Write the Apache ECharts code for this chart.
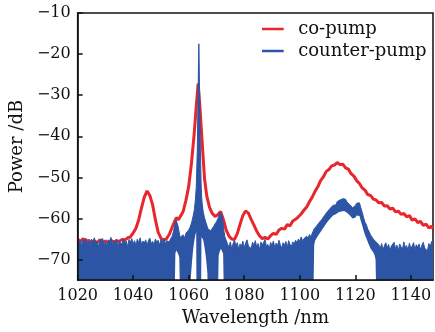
<!DOCTYPE html>
<html><head><meta charset="utf-8">
<script src="https://cdn.jsdelivr.net/npm/echarts@6.0.0/dist/echarts.min.js"></script>
<style>html,body{margin:0;padding:0;background:#fff}#c{width:435px;height:332px}</style>
</head><body><div id="c"></div>
<script>
const xTicks = [1020,1040,1060,1080,1100,1120,1140];
const yTicks = [-70,-60,-50,-40,-30,-20,-10];

// co-pump spectrum (nm, dB)
const redWl = [1020,1021,1022,1023,1024,1025,1026,1027,1028,1029,
1030,1031,1032,1033,1034,1035,1036,1037,1038,1039,
1040,1041,1042,1043,1044,1045,1046,1047,1048,1049,
1050,1051,1052,1053,1054,1055,1055.6,1056.3,1057,1058,
1059,1060,1061,1062,1062.8,1063.4,1064,1064.8,1065.7,1066.5,
1067.5,1068.5,1069.5,1070.5,1071.5,1072.5,1073.5,1074.5,1075.5,1076.5,
1077.5,1078.5,1079.5,1080.5,1081.5,1082.5,1083.5,1084.5,1085.5,1086.5,
1087.5,1088.5,1089.5,1090.5,1091.5,1092.5,1093.5,1094.5,1095.5,1096.5,
1097.5,1098.5,1099.5,1100.5,1101.5,1102.5,1103.5,1104.5,1105.5,1106.5,
1107.5,1108.5,1109.5,1110.5,1111.5,1112.5,1113.5,1114.5,1115.5,1116.5,
1117.5,1118.5,1119.5,1120.5,1121.5,1122.5,1123.5,1124.5,1125.5,1126.5,
1127.5,1128.5,1129.5,1130.5,1131.5,1132.5,1133.5,1134.5,1135.5,1136.5,
1137.5,1138.5,1139.5,1140.5,1141.5,1142.5,1143.5,1144.5,1145.5,1146.5,
1147.5,1148];
const redVal = [-65.0,-65.6,-64.9,-65.8,-65.3,-66.0,-65.4,-65.9,-65.2,-65.8,
-65.5,-66.0,-65.3,-65.8,-65.4,-65.6,-65.1,-65.3,-64.7,-64.5,
-63.5,-62.4,-60.3,-57.4,-54.8,-53.3,-54.4,-56.7,-60.3,-63.4,
-64.8,-65.3,-64.9,-63.9,-62.2,-60.6,-59.8,-60.3,-60.0,-58.3,
-55.6,-52.2,-46.5,-39.2,-32.0,-27.2,-32.5,-41.0,-50.3,-54.5,
-57.3,-58.8,-59.5,-59.1,-58.3,-60.3,-62.8,-64.3,-65.0,-65.1,
-63.7,-61.4,-59.3,-58.2,-58.7,-60.2,-61.6,-63.1,-64.2,-64.9,
-64.6,-65.0,-64.2,-63.6,-63.9,-62.8,-62.4,-62.6,-61.5,-61.8,
-60.6,-60.2,-59.6,-58.9,-58.0,-57.2,-55.9,-54.8,-53.4,-52.3,
-50.8,-49.9,-48.6,-48.1,-47.2,-47.0,-46.4,-46.9,-46.8,-47.7,
-48.0,-49.1,-49.7,-50.8,-51.5,-52.6,-53.1,-54.2,-54.4,-55.3,
-55.5,-56.2,-56.1,-57.0,-56.9,-57.7,-57.5,-58.4,-58.2,-59.0,
-58.8,-59.6,-59.3,-60.4,-60.1,-61.0,-60.7,-61.7,-61.4,-62.3,
-61.9,-62.5];

// counter-pump spectrum: upper edge of the noisy trace (nm, dB)
const blueWl = [1020,1020.5,1021,1021.5,1022,1022.5,1023,1023.5,1024,1024.5,
1025,1025.5,1026,1026.5,1027,1027.5,1028,1028.5,1029,1029.5,
1030,1030.5,1031,1031.5,1032,1032.5,1033,1033.5,1034,1034.5,
1035,1035.5,1036,1036.5,1037,1037.5,1038,1038.5,1039,1039.5,
1040,1040.5,1041,1041.5,1042,1042.5,1043,1043.5,1044,1044.5,
1045,1045.5,1046,1046.5,1047,1047.5,1048,1048.5,1049,1049.5,
1050,1050.5,1051,1051.5,1052,1052.5,1053,1053.5,1054,
1054.5,1054.9,1055.2,1055.5,1055.8,1056.2,1056.6,1056.9,1057.2,
1057.6,1058,1058.5,1059,1059.5,1060,1060.4,1060.8,1061.2,1061.6,
1062,1062.4,1062.7,1062.8,1063.1,1063.35,1063.55,1063.65,1063.75,1063.95,
1064.2,1064.45,1064.6,1064.8,1065.2,1065.7,1066.2,1066.7,1067,1067.5,
1068,1068.5,1069,1069.5,1070,1070.5,
1070.8,1071.2,1071.6,1072,1072.4,1072.7,1073,1073.5,
1074,1074.5,1075,1075.5,1076,1076.5,1077,1077.5,1078,1078.5,
1079,1079.5,1080,1080.5,1081,1081.5,1082,1082.5,1083,1083.5,
1084,1084.5,1085,1085.5,1086,1086.5,1087,1087.5,1088,1088.5,
1089,1089.5,1090,1090.5,1091,1091.5,1092,1092.5,1093,1093.5,
1094,1094.5,1095,1095.5,1096,1096.5,1097,1097.5,1098,1098.5,
1099,1099.5,1100,1100.5,1101,1101.5,1102,1102.5,1103,1103.5,
1104,1104.5,
1104.9,1105.2,1105.5,
1106,1106.5,1107,1107.5,1108,1108.5,1109,1109.5,1110,1110.5,
1111,1111.5,1112,1112.5,1113,1113.5,1114,1114.5,1115,1115.5,
1116,1116.5,1117,1117.5,1118,1118.5,1119,1119.5,1120,1120.5,
1121,1121.5,1122,1122.5,1123,1123.5,1124,1124.5,1125,1125.5,
1126,1126.5,1127,
1127.3,1127.6,1128,
1128.5,1129,1129.5,1130,1130.5,1131,1131.5,1132,1132.5,1133,
1133.5,1134,1134.5,1135,1135.5,1136,1136.5,1137,1137.5,1138,
1138.5,1139,1139.5,1140,1140.5,1141,1141.5,1142,1142.5,1143,
1143.5,1144,1144.5,1145,1145.5,1146,1146.5,1147,1147.5,1148];
const blueTop = [-65.2,-66.0,-65.4,-66.6,-65.1,-65.8,-64.8,-66.3,-65.5,-66.8,
-65.0,-65.9,-64.7,-66.2,-65.6,-66.9,-65.3,-65.7,-64.9,-66.4,
-65.8,-66.7,-65.2,-66.0,-64.6,-66.5,-65.4,-66.1,-65.0,-66.8,
-65.6,-65.2,-66.3,-64.8,-66.0,-65.5,-66.9,-65.1,-65.8,-64.9,
-66.2,-65.4,-66.6,-65.0,-65.9,-64.7,-66.3,-65.5,-66.0,-65.2,
-66.7,-65.3,-64.8,-66.1,-65.6,-66.4,-65.0,-65.8,-65.3,-66.5,
-65.1,-65.9,-64.9,-66.2,-65.4,-65.0,-65.7,-64.9,-64.4,
-63.2,-61.8,-60.9,-60.4,-60.8,-62.0,-63.5,-64.6,-65.0,
-64.6,-64.0,-64.8,-63.6,-63.9,-62.8,-62.3,-61.5,-60.6,-59.4,
-58.0,-55.5,-52.5,-50.5,-43.0,-31.0,-21.0,-17.5,-21.0,-31.0,
-43.0,-51.0,-54.0,-56.0,-58.3,-59.8,-61.0,-62.0,-62.6,-62.2,
-63.0,-62.4,-61.9,-61.3,-60.8,-60.1,
-59.5,-58.6,-58.2,-59.2,-61.2,-63.0,-64.4,-65.3,
-66.3,-66.9,-65.7,-67.4,-66.1,-65.3,-66.6,-65.9,-67.5,-66.2,
-66.8,-65.5,-67.1,-66.0,-65.2,-66.7,-66.4,-67.3,-65.8,-66.5,
-65.4,-67.0,-66.1,-67.6,-65.7,-66.5,-66.2,-65.1,-66.9,-66.3,
-67.4,-65.8,-66.6,-65.5,-67.1,-66.0,-66.7,-65.3,-66.4,-67.2,
-65.9,-66.5,-65.6,-67.0,-65.4,-66.3,-66.8,-65.7,-66.2,-65.3,
-65.9,-65.0,-65.6,-64.5,-65.4,-64.9,-65.2,-64.3,-64.9,-63.9,
-64.5,-63.6,
-63.0,-62.5,-62.8,
-61.9,-62.2,-61.0,-61.3,-60.2,-60.4,-59.2,-59.5,-58.3,-58.6,
-57.5,-57.8,-56.8,-56.4,-56.7,-55.9,-56.2,-55.5,-55.8,-55.2,
-55.6,-55.3,-56.0,-55.7,-56.6,-57.0,-57.4,-57.1,-56.9,-56.3,
-56.5,-56.2,-57.4,-58.5,-59.8,-60.9,-61.5,-62.6,-63.2,-64.0,
-64.3,-65.0,-64.8,
-65.6,-65.2,-66.0,
-66.4,-67.3,-66.1,-67.7,-66.6,-65.9,-67.2,-66.3,-67.8,-66.7,
-67.0,-65.8,-67.4,-66.5,-67.9,-66.2,-66.9,-67.5,-65.7,-67.1,
-66.6,-67.8,-66.0,-67.3,-66.7,-65.9,-67.6,-66.4,-67.0,-66.2,
-67.7,-66.5,-65.8,-67.2,-66.8,-67.9,-66.1,-66.9,-65.6,-66.6];

// lower edge of the counter-pump trace where it stays above the floor (nm, dB)
const gapWl = [1054.9,1055.2,1055.5,1055.8,1056.2,1056.6,1056.9,
1060.4,1060.8,1061.2,1061.6,1062,1062.4,1062.7,1062.8,
1064.45,1064.6,1064.8,1065.2,1065.7,1066.2,1066.7,1067,
1070.5,1070.8,1071.2,1071.6,1072,1072.4,1072.7,
1104.9,1105.2,1105.5,
1106,1106.5,1107,1107.5,1108,1108.5,1109,1109.5,1110,1110.5,
1111,1111.5,1112,1112.5,1113,1113.5,1114,1114.5,1115,1115.5,
1116,1116.5,1117,1117.5,1118,1118.5,1119,1119.5,1120,1120.5,
1121,1121.5,1122,1122.5,1123,1123.5,1124,1124.5,1125,1125.5,
1126,1126.5,1127,
1127.3,1127.6];
const gapBottom = [-80,-68.5,-67.8,-68.0,-68.6,-69.5,-80,
-80,-74,-70.5,-67.5,-65.5,-64,-63.3,-80,
-80,-64.5,-64.2,-65.2,-67,-69.5,-73,-80,
-80,-69,-68.0,-67.4,-67.8,-68.6,-80,
-80,-66.5,-65.5,
-64.8,-64.6,-63.8,-63.5,-62.8,-62.4,-61.8,-61.5,-60.8,-60.5,
-60.0,-59.7,-59.3,-59.0,-59.0,-58.6,-58.5,-58.3,-58.3,-58.0,
-58.2,-58.0,-58.6,-58.4,-59.2,-59.6,-60.0,-59.8,-59.8,-59.3,
-59.6,-59.4,-60.6,-61.7,-63.0,-64.0,-64.8,-65.7,-66.5,-67.3,
-67.5,-68.3,-69.0,
-70,-80];

const RED = '#e8262b', BLUE = '#2d55a5';
const FONT = 'DejaVu Serif';
const pairs = (xs, ys) => xs.map((x, i) => [x, ys[i]]);

const chart = echarts.init(document.getElementById('c'), null, {renderer: 'canvas'});
chart.setOption({
  animation: false,
  backgroundColor: '#fff',
  textStyle: {fontFamily: FONT},
  grid: {left: 71, right: 2, top: 13, bottom: 50, show: true, borderColor: '#111', borderWidth: 1.5, backgroundColor: 'transparent'},
  legend: {
    data: ['co-pump', 'counter-pump'],
    orient: 'vertical', left: 262, top: 19, padding: 0, itemGap: 2,
    icon: 'path://M0 0H26V3H0Z M33.99 0H34V0.01H33.99Z', itemWidth: 34, itemHeight: 2.5,
    formatter: n => n,
    textStyle: {fontFamily: FONT, fontSize: 18, color: '#111', lineHeight: 20,
      rich: {a: {fontFamily: FONT}}}
  },
  xAxis: {
    type: 'value', min: 1020, max: 1148, z: 10,
    name: 'Wavelength /nm', nameLocation: 'middle', nameGap: 27,
    nameTextStyle: {fontFamily: FONT, fontSize: 18, color: '#111'},
    axisLine: {lineStyle: {color: '#111', width: 1.5}},
    axisTick: {inside: true, length: 5, customValues: xTicks, lineStyle: {color: '#111', width: 1.5}},
    axisLabel: {customValues: xTicks, fontFamily: FONT, fontSize: 16, color: '#111', margin: 8,
      formatter: v => String(v)},
    splitLine: {show: false}
  },
  yAxis: {
    type: 'value', min: -75, max: -10, z: 10,
    name: 'Power /dB', nameLocation: 'middle', nameGap: 48, nameRotate: 90,
    nameTextStyle: {fontFamily: FONT, fontSize: 18, color: '#111'},
    axisLine: {lineStyle: {color: '#111', width: 1.5}},
    axisTick: {inside: true, length: 5, customValues: yTicks, lineStyle: {color: '#111', width: 1.5}},
    axisLabel: {customValues: yTicks, fontFamily: FONT, fontSize: 16, color: '#111', margin: 7,
      formatter: v => String(v).replace('-', '\u2212')},
    splitLine: {show: false}
  },
  series: [
    {name: 'co-pump', type: 'line', data: pairs(redWl, redVal), symbol: 'none',
     lineStyle: {color: RED, width: 3}, itemStyle: {color: RED}, z: 2},
    {name: 'counter-pump', type: 'line', data: pairs(blueWl, blueTop), symbol: 'none',
     lineStyle: {color: BLUE, width: 1}, itemStyle: {color: BLUE},
     areaStyle: {color: BLUE, opacity: 1, origin: 'start'}, z: 3},
    {name: 'gap', type: 'line', data: pairs(gapWl, gapBottom), symbol: 'none',
     lineStyle: {width: 0, opacity: 0}, itemStyle: {color: '#fff'},
     areaStyle: {color: '#fff', opacity: 1, origin: 'start'}, z: 4, silent: true}
  ]
});
</script></body></html>
